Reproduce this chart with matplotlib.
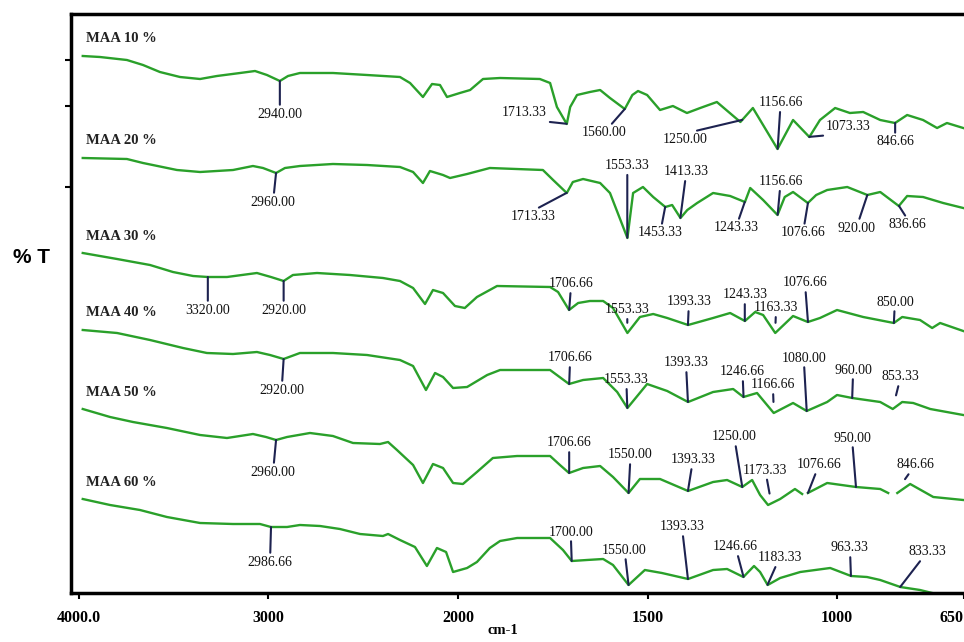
import numpy as np
import matplotlib
matplotlib.use("Agg")
import matplotlib.pyplot as plt

# FTIR spectra, wavenumber (cm-1) vs offset %T, one trace per MAA loading
w10 = [3980, 3889, 3747, 3662, 3573, 3467, 3361, 3272, 3150, 3071, 3008, 2940, 2897, 2834, 2660,
       2480, 2306, 2253, 2185, 2137, 2095, 2058, 1995, 1968, 1934, 1889, 1784, 1757, 1739, 1713,
       1704, 1686, 1652, 1625, 1599, 1560, 1540, 1525, 1501, 1467, 1433, 1396, 1361, 1317, 1255,
       1222, 1157, 1116, 1073, 1045, 1005, 966, 931, 886, 847, 815, 773, 736, 710, 667]
t10 = [537, 536, 533, 528, 521, 516, 514, 517, 520, 522, 518, 512, 517, 520, 520,
       518, 516, 510, 496, 509, 508, 496, 500, 503, 514, 515, 514, 510, 486, 469,
       486, 498, 501, 503, 495, 484, 498, 502, 498, 483, 487, 480, 485, 491, 471,
       485, 444, 473, 456, 473, 485, 480, 481, 473, 470, 478, 473, 465, 470, 465]

w20 = [3980, 3747, 3662, 3483, 3361, 3187, 3082, 3029, 2960, 2913, 2834, 2660, 2480, 2306, 2237,
       2185, 2148, 2079, 2042, 1976, 1916, 1776, 1749, 1713, 1697, 1670, 1625, 1599, 1553, 1538,
       1512, 1485, 1453, 1435, 1413, 1395, 1369, 1327, 1282, 1243, 1229, 1195, 1157, 1138, 1116,
       1077, 1055, 1026, 973, 920, 886, 837, 815, 773, 720, 667]
t20 = [435, 434, 430, 423, 421, 423, 427, 425, 420, 425, 427, 429, 428, 426, 421,
       410, 422, 418, 415, 419, 425, 423, 413, 400, 411, 414, 410, 400, 355, 400,
       406, 396, 386, 388, 375, 383, 390, 400, 397, 391, 405, 393, 378, 396, 401,
       390, 398, 403, 406, 398, 401, 387, 397, 396, 390, 385]

w30 = [3980, 3799, 3625, 3504, 3398, 3320, 3219, 3061, 2987, 2920, 2871, 2744, 2570, 2396, 2306,
       2237, 2174, 2132, 2079, 2016, 1982, 1950, 1897, 1757, 1736, 1707, 1683, 1652, 1617, 1591,
       1553, 1520, 1485, 1448, 1393, 1327, 1282, 1243, 1216, 1195, 1163, 1116, 1077, 1045, 1000,
       931, 850, 828, 781, 749, 728, 667]
t30 = [340, 334, 328, 321, 317, 316, 316, 320, 316, 312, 318, 320, 318, 315, 312,
       305, 289, 303, 300, 287, 285, 296, 307, 306, 301, 283, 290, 292, 292, 285,
       260, 276, 279, 275, 268, 275, 280, 272, 281, 278, 260, 277, 271, 275, 283,
       276, 270, 276, 273, 265, 270, 262]

w40 = [3980, 3799, 3625, 3451, 3325, 3187, 3061, 2992, 2920, 2834, 2660, 2480, 2306, 2237, 2169,
       2121, 2079, 2026, 1976, 1923, 1889, 1757, 1707, 1670, 1617, 1580, 1553, 1501, 1448, 1393,
       1327, 1274, 1247, 1211, 1167, 1116, 1080, 1026, 1000, 960, 886, 853, 828, 799, 754, 667]
t40 = [263, 260, 253, 245, 240, 239, 241, 238, 234, 240, 240, 238, 233, 227, 203,
       220, 216, 205, 206, 218, 223, 223, 209, 213, 215, 201, 185, 209, 202, 191,
       201, 204, 196, 200, 180, 190, 182, 191, 198, 195, 191, 184, 191, 190, 184, 178]

w50 = [3980, 3836, 3715, 3536, 3361, 3219, 3082, 3013, 2960, 2902, 2781, 2660, 2554, 2412, 2369,
       2322, 2237, 2185, 2132, 2079, 2026, 1987, 1950, 1908, 1844, 1757, 1731, 1707, 1670, 1625,
       1591, 1550, 1520, 1467, 1393, 1327, 1290, 1250, 1224, 1203, 1182, 1150, 1111, 1092, 1085,
       1077, 1026, 950, 886, 865, 853, 841, 807, 746, 667]
t50 = [184, 176, 171, 165, 158, 155, 159, 156, 153, 156, 160, 157, 150, 149, 151,
       143, 128, 110, 129, 125, 110, 109, 121, 135, 137, 137, 128, 120, 125, 127,
       116, 100, 114, 114, 102, 111, 113, 106, 113, 98, 88, 94, 104, 99, np.nan,
       100, 110, 106, 104, 100, np.nan, 100, 109, 96, 93]

w60 = [3980, 3836, 3678, 3536, 3361, 3187, 3045, 2987, 2902, 2834, 2728, 2623, 2517, 2396, 2369,
       2306, 2227, 2164, 2111, 2063, 2026, 1976, 1950, 1916, 1889, 1844, 1757, 1723, 1700, 1660,
       1617, 1591, 1550, 1507, 1462, 1393, 1327, 1290, 1247, 1219, 1203, 1183, 1150, 1097, 1018,
       963, 921, 886, 833, 781, 749, 690]
t60 = [94, 88, 83, 76, 70, 69, 69, 66, 66, 68, 67, 64, 59, 57, 59,
       53, 46, 27, 45, 41, 21, 25, 31, 45, 52, 55, 55, 43, 32, 33,
       34, 28, 8, 23, 20, 14, 23, 24, 16, 27, 21, 8, 15, 21, 25,
       17, 16, 13, 6, 3, 0, -4]

names = ["MAA 10 %", "MAA 20 %", "MAA 30 %", "MAA 40 %", "MAA 50 %", "MAA 60 %"]

# labelled band positions (cm-1)
pk10 = [2940.00, 1713.33, 1560.00, 1250.00, 1156.66, 1073.33, 846.66]
pk20 = [2960.00, 1713.33, 1553.33, 1453.33, 1413.33, 1243.33, 1156.66, 1076.66, 920.00, 836.66]
pk30 = [3320.00, 2920.00, 1706.66, 1553.33, 1393.33, 1243.33, 1163.33, 1076.66, 850.00]
pk40 = [2920.00, 1706.66, 1553.33, 1393.33, 1246.66, 1166.66, 1080.00, 960.00, 853.33]
pk50 = [2960.00, 1706.66, 1550.00, 1393.33, 1250.00, 1173.33, 1076.66, 950.00, 846.66]
pk60 = [2986.66, 1700.00, 1550.00, 1393.33, 1246.66, 1183.33, 963.33, 833.33]

# label placement: (dx px, dy px, gap px at the trace, vertical relpos of leader)
lay10 = [(0, -33, 0, .5), (-42, 11, 0, 0), (-21, -24, 0, .5), (-57, -20, 0, 1),
         (3, 46, 0, .5), (39, 10, 0, 0), (0, -19, 0, .5)]
lay20 = [(-3, -29, 0, .5), (-33, -24, 0, 1), (0, 72, 0, .5), (-5, -26, 0, .5), (6, 46, 0, .5),
         (-9, -26, 0, .5), (3, 33, 0, .5), (-5, -30, 0, .5), (-11, -33, 0, .5), (8, -19, 0, 1)]
lay30 = [(0, -33, 0, .5), (0, -29, 0, .5), (2, 26, 0, .5), (0, 23, 10, .5), (1, 23, 0, .5),
         (0, 26, 0, .5), (1, 25, 10, .5), (-3, 39, 0, .5), (1, 21, 0, .5)]
lay40 = [(-2, -31, 0, .5), (1, 26, 0, .5), (-1, 28, 0, .5), (-2, 39, 0, .5), (-1, 25, 0, .5),
         (-1, 28, 11, .5), (-3, 53, 0, .5), (1, 28, 0, .5), (8, 32, 14, .5)]
lay50 = [(-3, -32, 0, .5), (0, 30, 0, .5), (2, 38, 0, .5), (5, 31, 0, .5), (-8, 50, 0, .5),
         (-6, 33, 10, .5), (11, 28, 0, .5), (-4, 49, 0, .5), (20, 28, 17, .5)]
lay60 = [(-1, -35, 0, .5), (-1, 29, 0, .5), (-4, 35, 0, .5), (-6, 52, 0, .5), (-8, 30, 0, .5),
         (12, 27, 0, .5), (-1, 28, 0, .5), (27, 35, 0, .5)]

traces = [(w10, t10, pk10, lay10), (w20, t20, pk20, lay20), (w30, t30, pk30, lay30),
          (w40, t40, pk40, lay40), (w50, t50, pk50, lay50), (w60, t60, pk60, lay60)]

GREEN = "#2aa02a"
NAVY = "#1d2250"
serif = "Liberation Serif"


# spectrometer style axis: below 2000 cm-1 the scale is doubled
def fwd(x):
    x = np.asarray(x, dtype=float)
    return np.where(x > 2000, 2000 + (x - 2000) / 2, x)


def inv(y):
    y = np.asarray(y, dtype=float)
    return np.where(y > 2000, 2000 + (y - 2000) * 2, y)


fig = plt.figure(figsize=(9.64, 6.42), dpi=100)
ax = fig.add_axes([71 / 964, 1 - 593 / 642, 1 - 71 / 964, (593 - 14) / 642])
ax.set_xscale("function", functions=(fwd, inv))
ax.set_xlim(4042, 665)
ax.set_ylim(0, 579)

for (w, t, pk, lay), name in zip(traces, names):
    w = np.array(w, dtype=float)
    t = np.array(t, dtype=float)
    ax.plot(w, t, color=GREEN, lw=1.7, solid_joinstyle="round")
    ax.annotate(name, xy=(w[0], t[0]), xytext=(3, 17), textcoords="offset pixels",
                ha="left", va="center", fontsize=10.5, fontweight="bold",
                family=serif, color="#222222")
    ok = ~np.isnan(t)
    for p, (dx, dy, gap, ry) in zip(pk, lay):
        y = np.interp(p, w[ok][::-1], t[ok][::-1])
        ax.annotate("%.2f" % p, xy=(p, y), xytext=(dx, dy), textcoords="offset pixels",
                    ha="center", va="center", fontsize=10, family=serif, color="#111111",
                    arrowprops=dict(arrowstyle="-", color=NAVY, lw=1.5,
                                    shrinkA=0, shrinkB=gap * 0.72,
                                    relpos=(0.5, ry)))

for s in ["top", "left", "bottom"]:
    ax.spines[s].set_linewidth(2.5)
ax.spines["right"].set_visible(False)

ax.set_xticks([4000, 3000, 2000, 1500, 1000, 665])
ax.set_xticklabels(["4000.0", "3000", "2000", "1500", "1000", "650"],
                   fontsize=11.5, fontweight="bold", family=serif)
ax.get_xticklabels()[-1].set_ha("right")
ax.tick_params(axis="x", direction="out", length=4, width=1.5, pad=8)
ax.set_yticks([533, 487, 406])
ax.set_yticklabels([])
ax.tick_params(axis="y", direction="out", length=4, width=1.5)

ax.set_xlabel("cm-1", fontsize=10.5, fontweight="bold", family=serif, va="center")
ax.xaxis.set_label_coords(0.484, -0.064)
ax.set_ylabel("% T", rotation=0, fontsize=15, fontweight="bold",
              family="Liberation Sans", ha="center", va="center")
ax.yaxis.set_label_coords(-0.044, 0.58)

fig.savefig("out.png", dpi=100)
